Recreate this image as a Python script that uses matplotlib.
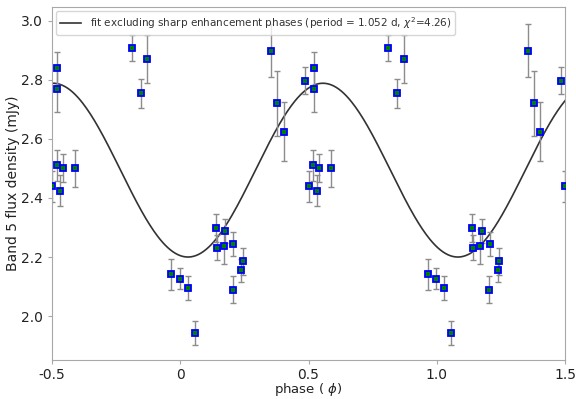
import numpy as np
import matplotlib
matplotlib.use("Agg")
import matplotlib.pyplot as plt

# one cycle of phased measurements (phase, flux in mJy, 1-sigma error)
phase = [0.964, 0.997, 0.029, 0.056, 0.139, 0.175, 0.143, 0.170, 0.207,
         0.244, 0.237, 0.205, 0.355, 0.379, 0.403, 0.486, 0.520, 0.521,
         0.519, 0.542, 0.588, 0.501, 0.533, 0.810, 0.845, 0.871]
flux = [2.142, 2.127, 2.096, 1.944, 2.299, 2.289, 2.231, 2.236, 2.244,
        2.186, 2.155, 2.090, 2.898, 2.720, 2.624, 2.797, 2.838, 2.770,
        2.510, 2.501, 2.500, 2.439, 2.425, 2.906, 2.754, 2.870]
flux_err = [0.052, 0.035, 0.041, 0.040, 0.047, 0.040, 0.042, 0.058, 0.040,
            0.046, 0.040, 0.046, 0.090, 0.110, 0.100, 0.045, 0.055, 0.078,
            0.053, 0.047, 0.063, 0.053, 0.054, 0.044, 0.050, 0.080]

# sinusoid fit parameters
fit_mean = 2.494
fit_amp = 0.294
fit_period = 1.052
fit_peak = 0.556

xticks = [-0.5, 0, 0.5, 1.0, 1.5]
xtick_labels = ["-0.5", "0", "0.5", "1.0", "1.5"]
yticks = [2.0, 2.2, 2.4, 2.6, 2.8, 3.0]

SPINE = "#a8a8a8"
TEXT = "#222222"

fig = plt.figure(figsize=(5.76, 3.99), dpi=100)
ax = fig.add_axes([0.0903, 0.0965, 0.8907, 0.886])

xs = np.linspace(-0.5, 1.5, 400)
ys = fit_mean + fit_amp * np.cos(2 * np.pi * (xs - fit_peak) / fit_period)
ax.plot(xs, ys, color="#333333", linewidth=1.2,
        label=r"fit excluding sharp enhancement phases (period = 1.052 d, $\chi^2$=4.26)")

ph = np.array(phase)
fl = np.array(flux)
er = np.array(flux_err)
for shift in (-1, 0, 1):
    ax.errorbar(ph + shift, fl, yerr=er, fmt="none", ecolor="#8c8c8c",
                elinewidth=1.0, capsize=2, capthick=1.0, zorder=2)
    ax.plot(ph + shift, fl, linestyle="none", marker="s", markersize=5,
            markerfacecolor="green", markeredgecolor="blue",
            markeredgewidth=1.3, zorder=3)

ax.set_xlim(-0.5, 1.5)
ax.set_ylim(1.85, 3.046)
ax.set_xticks(xticks)
ax.set_xticklabels(xtick_labels)
ax.set_yticks(yticks)
ax.set_yticklabels([f"{v:.1f}" for v in yticks])

ax.set_xlabel(r"phase ( $\phi$)", fontsize=9.5, color=TEXT, labelpad=-0.5)
ax.set_ylabel("Band 5 flux density (mJy)", fontsize=10, color=TEXT, labelpad=1)
ax.tick_params(labelsize=10, colors=TEXT, length=3, color=SPINE)
ax.tick_params(axis="x", pad=2.5)
for spine in ax.spines.values():
    spine.set_color(SPINE)

leg = ax.legend(loc="upper left", fontsize=7.5, frameon=True, borderaxespad=0.4,
                handlelength=2.0)
leg.get_frame().set_edgecolor("#cccccc")
for t in leg.get_texts():
    t.set_color("#333333")

fig.savefig("out.png", dpi=100)
